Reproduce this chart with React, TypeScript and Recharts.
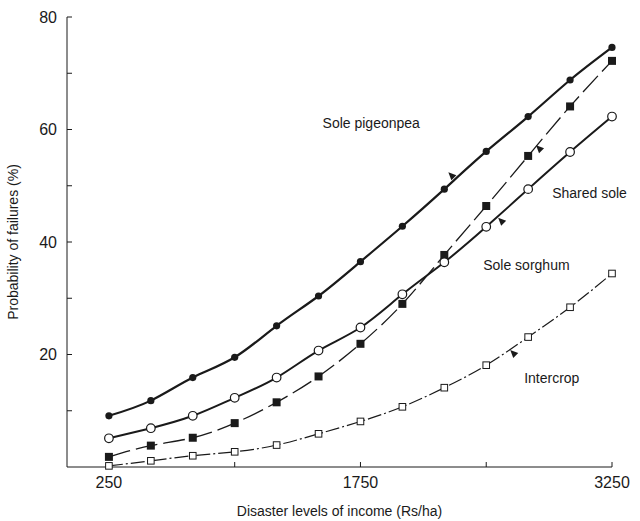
import React from 'react';
import { LineChart, Line, XAxis, YAxis, ReferenceDot } from 'recharts';

// disaster levels of income (Rs/ha)
const income = [250, 500, 750, 1000, 1250, 1500, 1750, 2000, 2250, 2500, 2750, 3000, 3250];

// probability of failures (%)
const solePigeonpea = [9.1, 11.8, 15.9, 19.5, 25.1, 30.4, 36.5, 42.8, 49.4, 56.1, 62.3, 68.8, 74.6];
const soleSorghum = [5.1, 6.9, 9.1, 12.3, 15.9, 20.7, 24.8, 30.7, 36.4, 42.7, 49.4, 56.0, 62.3];
const sharedSole = [1.8, 3.8, 5.2, 7.8, 11.5, 16.1, 21.9, 29.0, 37.7, 46.4, 55.3, 64.1, 72.2];
const intercrop = [0.2, 1.1, 2.0, 2.7, 3.9, 5.9, 8.1, 10.7, 14.1, 18.1, 23.1, 28.4, 34.4];

const xTicks = [250, 1000, 1750, 2500, 3250];
const xLabelled = [250, 1750, 3250];
const yTicks = [0, 10, 20, 30, 40, 50, 60, 70, 80];
const yLabelled = [20, 40, 60, 80];

const data = income.map((x, i) => ({
  x,
  pigeonpea: solePigeonpea[i],
  sorghum: soleSorghum[i],
  shared: sharedSole[i],
  intercrop: intercrop[i],
}));

const curveLabels = [
  { text: 'Sole pigeonpea', x: 1524, y: 61.2 },
  { text: 'Shared sole', x: 2893, y: 48.7 },
  { text: 'Sole sorghum', x: 2482, y: 35.9 },
  { text: 'Intercrop', x: 2726, y: 15.8 },
];

// little arrowheads pointing at each curve
const arrows = [
  { x: 2298, y: 51.7 },
  { x: 2821, y: 56.5 },
  { x: 2595, y: 43.6 },
  { x: 2667, y: 20.1 },
];

const INK = '#1a1a1a';
const FONT = '"Liberation Sans", Arial, sans-serif';

const YTick = ({ x, y, payload }: any) => (
  <g>
    {payload.value !== 0 && <line x1={x} y1={y} x2={x + 5} y2={y} stroke={INK} strokeWidth={1} />}
    {yLabelled.includes(payload.value) && (
      <text x={x - 10} y={y} dy="0.35em" textAnchor="end" fontSize={16} fill={INK} fontFamily={FONT}>
        {payload.value}
      </text>
    )}
  </g>
);

const XTick = ({ x, y, payload }: any) => (
  <g>
    {payload.value !== 250 && <line x1={x} y1={y} x2={x} y2={y - 5} stroke={INK} strokeWidth={1} />}
    {xLabelled.includes(payload.value) && (
      <text x={x} y={y + 15} dy="0.35em" textAnchor="middle" fontSize={16} fill={INK} fontFamily={FONT}>
        {payload.value}
      </text>
    )}
  </g>
);

const FilledCircle = ({ cx, cy }: any) => <circle cx={cx} cy={cy} r={3.6} fill={INK} />;
const OpenCircle = ({ cx, cy }: any) => (
  <circle cx={cx} cy={cy} r={4.3} fill="#fff" stroke={INK} strokeWidth={1.2} />
);
const FilledSquare = ({ cx, cy }: any) => <rect x={cx - 4} y={cy - 4} width={8} height={8} fill={INK} />;
const OpenSquare = ({ cx, cy }: any) => (
  <rect x={cx - 3.3} y={cy - 3.3} width={6.6} height={6.6} fill="#fff" stroke={INK} strokeWidth={1} />
);

const Arrow = ({ cx, cy }: any) => (
  <polygon points={`${cx - 4},${cy - 4} ${cx + 4},${cy - 1} ${cx - 1},${cy + 4}`} fill={INK} />
);

const CurveLabel = ({ cx, cy, text }: any) => (
  <text x={cx} y={cy} dy="0.35em" fontSize={14} fill={INK} fontFamily={FONT}>
    {text}
  </text>
);

export default function App() {
  return (
    <div style={{ position: 'absolute', left: 0, top: 0, background: '#fff' }}>
      <LineChart width={640} height={521} data={data} margin={{ top: 17, right: 28, bottom: 0, left: 0 }}>
        <XAxis
          dataKey="x"
          type="number"
          domain={[0, 3250]}
          ticks={xTicks}
          tick={<XTick />}
          tickSize={0}
          tickMargin={0}
          height={54}
          axisLine={{ stroke: INK, strokeWidth: 1 }}
          label={{
            value: 'Disaster levels of income (Rs/ha)',
            position: 'insideBottom',
            offset: 5,
            fontSize: 14,
            fill: INK,
            fontFamily: FONT,
          }}
        />
        <YAxis
          type="number"
          domain={[0, 80]}
          ticks={yTicks}
          tick={<YTick />}
          tickSize={0}
          tickMargin={0}
          width={67}
          axisLine={{ stroke: INK, strokeWidth: 1 }}
          label={{
            value: 'Probability of failures (%)',
            angle: -90,
            position: 'insideLeft',
            offset: 13,
            style: { textAnchor: 'middle' },
            fontSize: 14,
            fill: INK,
            fontFamily: FONT,
          }}
        />
        <Line
          type="natural"
          dataKey="intercrop"
          stroke={INK}
          strokeWidth={1.2}
          strokeDasharray="14 3 2 3"
          dot={<OpenSquare />}
          isAnimationActive={false}
        />
        <Line
          type="natural"
          dataKey="shared"
          stroke={INK}
          strokeWidth={1.3}
          strokeDasharray="22 6"
          dot={<FilledSquare />}
          isAnimationActive={false}
        />
        <Line
          type="natural"
          dataKey="sorghum"
          stroke={INK}
          strokeWidth={2}
          dot={<OpenCircle />}
          isAnimationActive={false}
        />
        <Line
          type="natural"
          dataKey="pigeonpea"
          stroke={INK}
          strokeWidth={2.2}
          dot={<FilledCircle />}
          isAnimationActive={false}
        />
        {arrows.map((a, i) => (
          <ReferenceDot key={'a' + i} x={a.x} y={a.y} r={4} shape={<Arrow />} />
        ))}
        {curveLabels.map((l) => (
          <ReferenceDot key={l.text} x={l.x} y={l.y} r={1} shape={<CurveLabel text={l.text} />} />
        ))}
      </LineChart>
    </div>
  );
}
